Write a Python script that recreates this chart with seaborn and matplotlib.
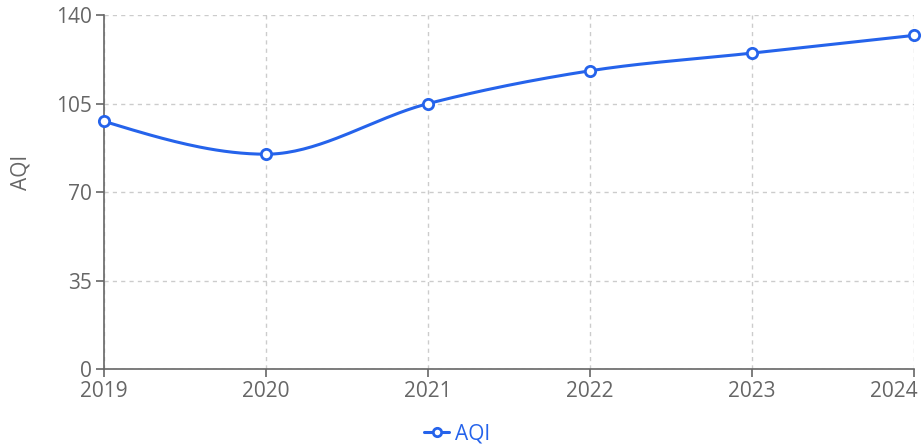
import numpy as np
import pandas as pd
import seaborn as sns
import matplotlib.pyplot as plt
import matplotlib.transforms as mtransforms
from matplotlib.lines import Line2D

# datos
years = [2019, 2020, 2021, 2022, 2023, 2024]
aqi = [98, 85, 105, 118, 125, 132]
y_ticks = [0, 35, 70, 105, 140]

blue = "#2563eb"
grey = "#666666"

sns.set_theme(style="white")
plt.rcParams['font.family'] = ['Open Sans', 'DejaVu Sans']


def monotone_curve(x, y, n=40):
    # curva monotona tipo d3.curveMonotoneX (solo para dibujar la linea)
    x = np.asarray(x, float)
    y = np.asarray(y, float)
    h = np.diff(x)
    s = np.diff(y) / h
    t = np.zeros(len(x))
    for i in range(1, len(x) - 1):
        p = (s[i - 1] * h[i] + s[i] * h[i - 1]) / (h[i - 1] + h[i])
        t[i] = (np.sign(s[i - 1]) + np.sign(s[i])) * min(abs(s[i - 1]), abs(s[i]), 0.5 * abs(p))
    t[0] = (3 * s[0] - t[1]) / 2
    t[-1] = (3 * s[-1] - t[-2]) / 2
    xs, ys = [], []
    for i in range(len(x) - 1):
        u = np.linspace(0, 1, n)
        dx = h[i]
        p0 = (x[i], y[i])
        p1 = (x[i] + dx / 3, y[i] + dx * t[i] / 3)
        p2 = (x[i + 1] - dx / 3, y[i + 1] - dx * t[i + 1] / 3)
        p3 = (x[i + 1], y[i + 1])
        b = [(1 - u) ** 3, 3 * (1 - u) ** 2 * u, 3 * (1 - u) * u ** 2, u ** 3]
        xs.append(sum(bk * pk[0] for bk, pk in zip(b, [p0, p1, p2, p3])))
        ys.append(sum(bk * pk[1] for bk, pk in zip(b, [p0, p1, p2, p3])))
    return np.concatenate(xs), np.concatenate(ys)


df = pd.DataFrame({"year": years, "AQI": aqi})
cx, cy = monotone_curve(df["year"], df["AQI"])
curve = pd.DataFrame({"year": cx, "AQI": cy})

fig = plt.figure(figsize=(9.24, 4.47), dpi=100)
ax = fig.add_axes([0.1126, 0.1745, 0.8764, 0.7915])

sns.lineplot(data=curve, x="year", y="AQI", color=blue, linewidth=2.2, ax=ax, sort=False, zorder=3)
sns.scatterplot(data=df, x="year", y="AQI", color="white", edgecolor=blue, linewidth=2,
                s=55, ax=ax, zorder=4, clip_on=False)

ax.set_xlim(2019, 2024)
ax.set_ylim(0, 140)
ax.set_xticks(years)
ax.set_yticks(y_ticks)
ax.set_xticklabels([str(v) for v in years])

ax.grid(True, linestyle=(0, (3, 3)), color="#cccccc", linewidth=1)
ax.set_axisbelow(True)
for side in ["top", "right"]:
    ax.spines[side].set_visible(False)
for side in ["left", "bottom"]:
    ax.spines[side].set_color(grey)
    ax.spines[side].set_linewidth(1.2)
ax.tick_params(axis="both", colors=grey, labelcolor=grey, labelsize=15,
               length=6, width=1.2, direction="out")
ax.tick_params(axis="x", pad=3)
ax.tick_params(axis="y", pad=3)
ax.tick_params(axis="both", left=True, bottom=True)

# la ultima etiqueta se corre para no salirse
last = ax.get_xticklabels()[-1]
last.set_horizontalalignment("right")
last.set_transform(last.get_transform() + mtransforms.ScaledTranslation(4 / 100, 0, fig.dpi_scale_trans))

ax.set_xlabel("")
ax.set_ylabel("AQI", color=grey, fontsize=15)
ax.yaxis.set_label_coords(-0.089, 0.557)

handle = Line2D([], [], color=blue, linewidth=2.2, marker="o", markersize=6,
                markerfacecolor="white", markeredgecolor=blue, markeredgewidth=2)
leg = fig.legend([handle], ["AQI"], loc="center", bbox_to_anchor=(0.495, 0.03), frameon=False,
                 fontsize=15, handlelength=1.2, handletextpad=0.3)
for txt in leg.get_texts():
    txt.set_color(blue)

fig.savefig("out.png", dpi=100)
